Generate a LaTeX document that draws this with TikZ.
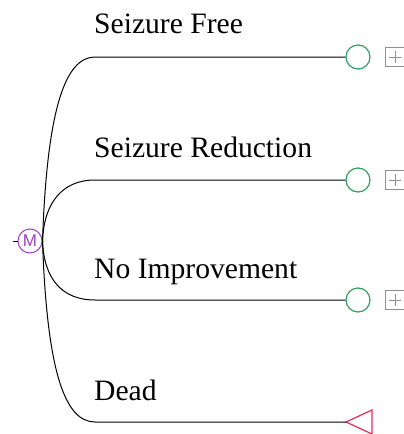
\documentclass[tikz,border=0pt]{standalone}
\usepackage{fontspec}
\setmainfont{Liberation Serif}
\setsansfont{Liberation Sans}
\definecolor{mpurple}{HTML}{A040C0}
\definecolor{cgreen}{HTML}{30A060}
\definecolor{tred}{HTML}{E0305A}
\definecolor{bgray}{HTML}{909090}
\begin{document}
\begin{tikzpicture}[x=1pt,y=-1pt,
  lbl/.style={anchor=base west,font=\fontsize{29.6}{31}\selectfont,inner sep=0pt},
  chance/.style={circle,draw=cgreen,line width=1.2pt,minimum size=24pt,inner sep=0pt},
  plusbox/.style={draw=bgray,line width=0.9pt,minimum size=19pt,inner sep=0pt},
  branch/.style={line width=1pt,black}]
\useasboundingbox (0,0) rectangle (404,434);
\node[circle,draw=mpurple,line width=1pt,minimum size=24pt,inner sep=0pt,text=mpurple,font=\sffamily\fontsize{17}{17}\selectfont] (M) at (30,241) {M};
\coordinate (in) at (13,241);
\draw[branch] (in) -- (M.west);
% branch endpoints
\node[chance] (c1) at (358,57) {};
\node[chance] (c2) at (358,180) {};
\node[chance] (c3) at (358,300) {};
\coordinate (t4) at (346,422);
\draw[tred,line width=1.2pt,line join=miter] (t4) -- (372,410) -- (372,434) -- cycle;
% plus boxes
\foreach \i/\y in {1/57,2/180,3/300}{
  \node[plusbox] (p\i) at (395,\y) {};
  \draw[bgray,line width=0.9pt] (389,\y) -- (401,\y) (395,\y-6) -- (395,\y+6);
}
% branches
\coordinate (s1) at (95,57);
\coordinate (s2) at (95,180);
\coordinate (s3) at (95,300);
\coordinate (s4) at (95,422);
\draw[branch] (M.east) .. controls (47,110) and (65,57) .. (s1) -- (c1.west);
\draw[branch] (M.east) .. controls (44,203) and (62,180) .. (s2) -- (c2.west);
\draw[branch] (M.east) .. controls (44,279) and (62,300) .. (s3) -- (c3.west);
\draw[branch] (M.east) .. controls (47,372) and (65,422) .. (s4) -- (t4);
% labels
\node[lbl] (l1) at (94,33) {Seizure Free};
\node[lbl] (l2) at (94,157) {Seizure Reduction};
\node[lbl] (l3) at (94,278) {No Improvement};
\node[lbl] (l4) at (94,400) {Dead};
\end{tikzpicture}
\end{document}
